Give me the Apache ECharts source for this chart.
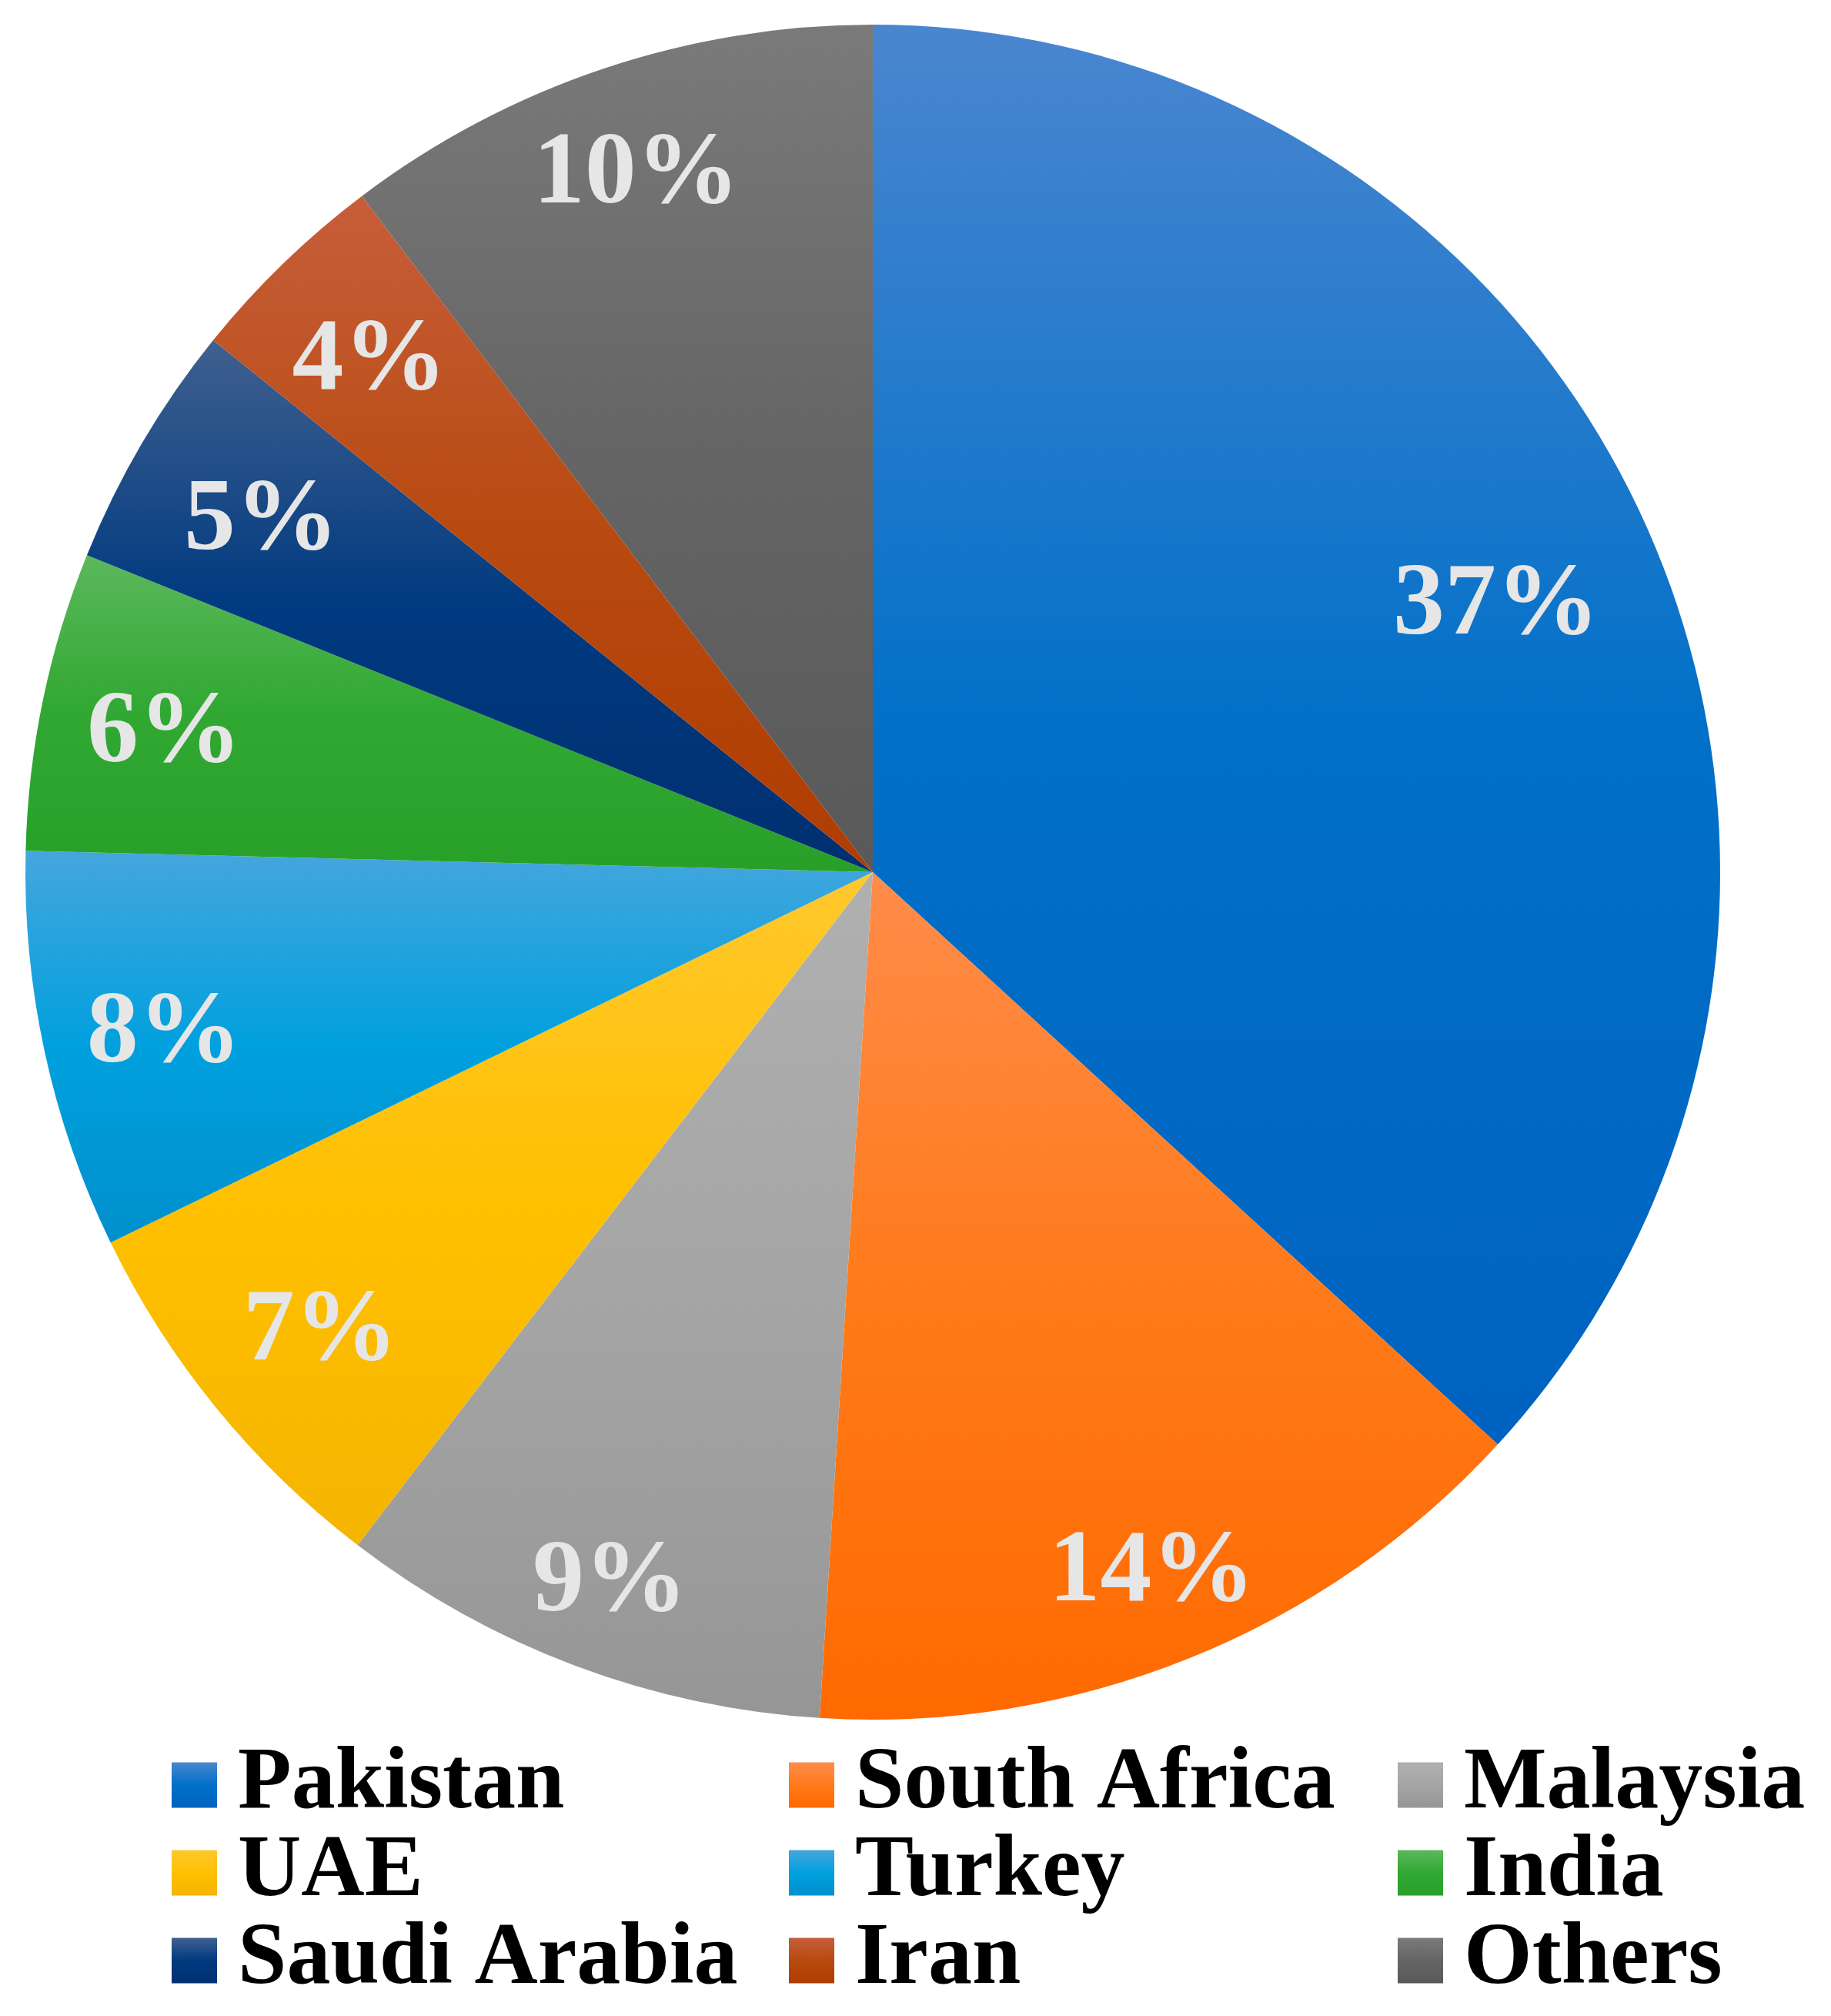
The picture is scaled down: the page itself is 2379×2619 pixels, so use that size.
<!DOCTYPE html>
<html>
<head>
<meta charset="utf-8">
<script src="https://cdn.jsdelivr.net/npm/echarts@6/dist/echarts.min.js"></script>
<style>
html,body{margin:0;padding:0;background:#fff;}
#chart{width:2379px;height:2619px;}
</style>
</head>
<body>
<div id="chart"></div>
<script>
const categories = ['Pakistan', 'South Africa', 'Malaysia', 'UAE', 'Turkey', 'India', 'Saudi Arabia', 'Iran', 'Others'];
const shares = [36.8, 14.2, 9.4, 7.4, 7.6, 5.7, 4.7, 3.9, 10.3];

// styling (kept separate from data)
const colorTop = ['#4A86D0', '#FF8C4A', '#B0B0B0', '#FFC82E', '#45A6DD', '#5CB85C', '#40608F', '#C65E3A', '#7A7A7A'];
const colorMid = ['#0070C8', '#FF7A1A', '#A5A5A5', '#FFC000', '#00A0DE', '#30A832', '#003A80', '#B84A10', '#656565'];
const colorBot = ['#0062C0', '#FF6A00', '#969696', '#F5B400', '#0090CC', '#28A028', '#002F70', '#B03C00', '#595959'];
const labelRadiusRatio = [0.801, 0.878, 0.882, 0.839, 0.853, 0.851, 0.834, 0.851, 0.875];

const FONT = '"Liberation Serif", "Times New Roman", serif';
const CENTER = [1134, 1133];
const R = 1101;

function grad(i) {
  return new echarts.graphic.LinearGradient(0, 0, 0, 1, [
    { offset: 0, color: colorTop[i] },
    { offset: 0.5, color: colorMid[i] },
    { offset: 1, color: colorBot[i] }
  ]);
}

const pieData = categories.map((name, i) => ({ name, value: shares[i], itemStyle: { color: grad(i) } }));

function legendCol(idx, left) {
  return {
    orient: 'vertical',
    left: left,
    top: 2262,
    padding: 0,
    itemGap: 0,
    itemWidth: 59,
    itemHeight: 59,
    icon: 'rect',
    selectedMode: false,
    data: idx.map(k => categories[k]),
    textStyle: {
      fontFamily: FONT,
      fontWeight: 'bold',
      fontSize: 114,
      color: '#000',
      lineHeight: 113,
      padding: [0, 0, 0, 22]
    }
  };
}

// transparent overlay rings: one per slice, used only to place that slice's label
const labelSeries = categories.map((_, k) => {
  const mid = labelRadiusRatio[k] * R;
  return {
    type: 'pie',
    center: CENTER,
    radius: [2 * mid - R, R],
    startAngle: 90,
    clockwise: true,
    silent: true,
    avoidLabelOverlap: false,
    emphasis: { disabled: true },
    itemStyle: { color: 'rgba(0,0,0,0)', borderWidth: 0 },
    labelLine: { show: false },
    label: {
      position: 'inside',
      offset: [0, 12],
      fontFamily: FONT,
      fontWeight: 'bold',
      fontSize: 134,
      color: '#E6E6E6',
      formatter: p => Math.round(p.value) + '%'
    },
    data: categories.map((name, i) => ({ name, value: shares[i], label: { show: i === k } }))
  };
});

const chart = echarts.init(document.getElementById('chart'), null, { renderer: 'canvas' });
chart.setOption({
  backgroundColor: '#ffffff',
  animation: false,
  legend: [
    legendCol([0, 3, 6], 223),
    legendCol([1, 4, 7], 1025),
    legendCol([2, 5, 8], 1816)
  ],
  series: [
    {
      type: 'pie',
      center: CENTER,
      radius: [0, R],
      startAngle: 90,
      clockwise: true,
      avoidLabelOverlap: false,
      label: { show: false },
      labelLine: { show: false },
      emphasis: { disabled: true },
      itemStyle: { borderWidth: 0 },
      data: pieData
    }
  ].concat(labelSeries)
});
</script>
</body>
</html>
